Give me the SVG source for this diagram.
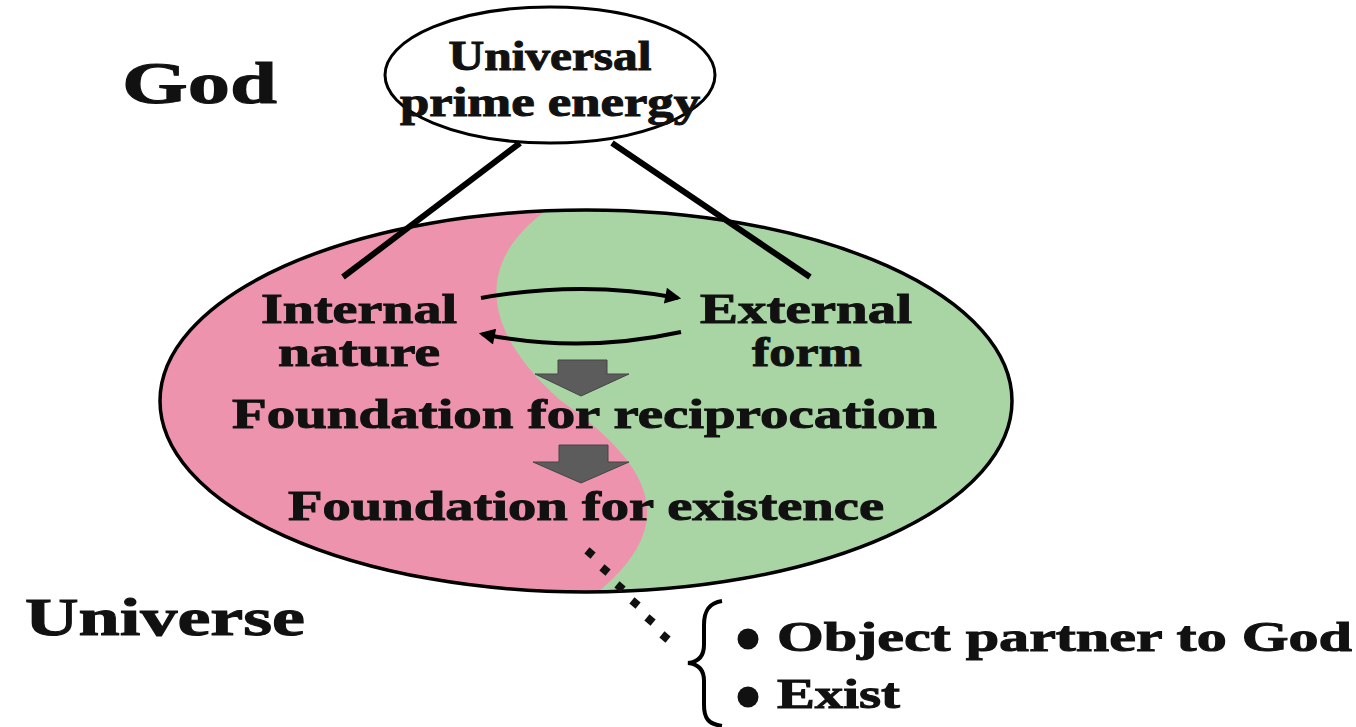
<svg xmlns="http://www.w3.org/2000/svg" width="1356" height="727" viewBox="0 0 1356 727">
<style>
.t{font-family:"Liberation Serif","Times New Roman",serif;font-weight:bold;fill:#111;stroke:#111;stroke-width:1}
.ln{stroke:#000;fill:none}
.blk{fill:#5c5c5c;stroke:#444;stroke-width:1}
</style>
<defs>
<clipPath id="bigclip"><ellipse cx="586" cy="401" rx="426" ry="191"/></clipPath>
<marker id="ah" viewBox="0 0 10 10" refX="8" refY="5" markerWidth="5.5" markerHeight="4" orient="auto" markerUnits="strokeWidth"><path d="M0,0 L10,5 L0,10 Z" fill="#000"/></marker>
</defs>
<rect width="1356" height="727" fill="#fff"/>

<g id="label-god"><text class="t" x="122" y="103" font-size="60" textLength="155" lengthAdjust="spacingAndGlyphs">God</text></g>
<g id="label-universe"><text class="t" x="25" y="635" font-size="53" textLength="280" lengthAdjust="spacingAndGlyphs">Universe</text></g>

<g id="node-prime-energy">
<ellipse cx="550" cy="75" rx="165" ry="68" fill="#fff" stroke="#000" stroke-width="3"/>
<text class="t" x="550" y="70" font-size="42" text-anchor="middle" textLength="203" lengthAdjust="spacingAndGlyphs">Universal</text>
<text class="t" x="550" y="116" font-size="42" text-anchor="middle" textLength="300" lengthAdjust="spacingAndGlyphs">prime energy</text>
</g>

<g id="node-universe-ellipse">
<g clip-path="url(#bigclip)">
<rect x="150" y="200" width="880" height="400" fill="#a9d5a5"/>
<path d="M150,200 L562,200 C480,250 470,320 560,400 C660,470 680,530 588,600 L150,600 Z" fill="#ee93ae"/>
</g>
<ellipse cx="586" cy="401" rx="426" ry="191" fill="none" stroke="#000" stroke-width="3.5"/>
</g>

<g id="connectors">
<line class="ln" x1="520" y1="143" x2="343" y2="277" stroke-width="6"/>
<line class="ln" x1="612" y1="143" x2="810" y2="277" stroke-width="6"/>
</g>

<g id="node-internal">
<text class="t" x="261" y="323" font-size="43" textLength="196" lengthAdjust="spacingAndGlyphs">Internal</text>
<text class="t" x="278" y="366" font-size="43" textLength="162" lengthAdjust="spacingAndGlyphs">nature</text>
</g>
<g id="node-external">
<text class="t" x="700" y="323" font-size="43" textLength="212" lengthAdjust="spacingAndGlyphs">External</text>
<text class="t" x="752" y="366" font-size="43" textLength="110" lengthAdjust="spacingAndGlyphs">form</text>
</g>

<g id="connectors-inner">
<path class="ln" d="M481,298 Q583,280 678,298" stroke-width="4" marker-end="url(#ah)"/>
<path class="ln" d="M681,332 Q580,354 482,334" stroke-width="4" marker-end="url(#ah)"/>
<path class="blk" d="M558,360 L607,360 L607,374 L629,374 L581,396 L535,374 L558,374 Z"/>
<path class="blk" d="M559,445 L608,445 L608,462 L629,462 L581,483 L533,462 L559,462 Z"/>
<g fill="#111">
<rect x="586" y="549" width="8" height="8" transform="rotate(40 590 553)"/>
<rect x="601" y="566" width="8" height="8" transform="rotate(40 605 570)"/>
<rect x="616" y="583" width="8" height="8" transform="rotate(40 620 587)"/>
<rect x="631" y="599" width="8" height="8" transform="rotate(40 635 603)"/>
<rect x="646" y="616" width="8" height="8" transform="rotate(40 650 620)"/>
<rect x="661" y="633" width="8" height="8" transform="rotate(40 665 637)"/>
</g>
</g>

<g id="node-reciprocation"><text class="t" x="232" y="428" font-size="43" textLength="705" lengthAdjust="spacingAndGlyphs">Foundation for reciprocation</text></g>
<g id="node-existence"><text class="t" x="288" y="520" font-size="43" textLength="596" lengthAdjust="spacingAndGlyphs">Foundation for existence</text></g>

<g id="node-list">
<path class="ln" stroke-width="4" d="M722,601 C708,603 704,612 704,625 L704,645 C704,656 698,662 688,663 C698,664 704,670 704,681 L704,705 C704,718 708,724 722,726"/>
<circle cx="748" cy="639" r="10.5" fill="#111"/>
<text class="t" x="777" y="651" font-size="43" textLength="575" lengthAdjust="spacingAndGlyphs">Object partner to God</text>
<circle cx="748" cy="697" r="10.5" fill="#111"/>
<text class="t" x="777" y="708" font-size="43" textLength="123" lengthAdjust="spacingAndGlyphs">Exist</text>
</g>
</svg>
